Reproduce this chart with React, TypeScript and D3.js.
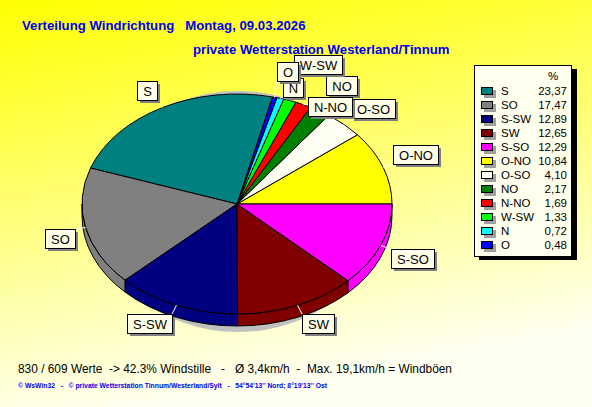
import React, { useEffect, useRef } from "react";
import * as d3 from "d3";

// legend order (descending share)
const directions = ["S", "SO", "S-SW", "SW", "S-SO", "O-NO", "O-SO", "NO", "N-NO", "W-SW", "N", "O"];
const percents = [23.37, 17.47, 12.89, 12.65, 12.29, 10.84, 4.10, 2.17, 1.69, 1.33, 0.72, 0.48];
const colors = ["#008080", "#808080", "#000080", "#800000", "#ff00ff", "#ffff00", "#fffff4", "#008000", "#ff0000", "#00ff00", "#00ffff", "#0000ff"];
const eastSlice = "O-NO"; // first slice counterclockwise from 3 o'clock

// vertical shifts of crowded labels so the boxes don't collide
const labelNudge: Record<string, number> = { "N-NO": 20, NO: -8, "W-SW": -18, N: 7, O: -8 };

const title1 = "Verteilung Windrichtung   Montag, 09.03.2026";
const title2 = "private Wetterstation Westerland/Tinnum";
const infoLine = "830 / 609 Werte  -> 42.3% Windstille   -   Ø 3,4km/h  -  Max. 19,1km/h = Windböen";
const footer = "© WsWin32   -   © private Wetterstation Tinnum/Westerland/Sylt   -   54°54'13'' Nord; 8°19'13'' Ost";

const App: React.FC = () => {
  const svgRef = useRef<SVGSVGElement>(null);
  const width = 592;
  const height = 407;
  const cx = 237, cy = 204, rx = 155, ry = 110, depth = 12;
  const font = "'Liberation Sans', Arial, sans-serif";

  useEffect(() => {
    document.body.style.margin = "0";
    const svg = d3.select(svgRef.current).attr("width", width).attr("height", height);
    svg.selectAll("*").remove();

    const defs = svg.append("defs");
    const grad = defs.append("linearGradient").attr("id", "bg")
      .attr("x1", 0).attr("y1", 0).attr("x2", 0.25).attr("y2", 1);
    grad.append("stop").attr("offset", 0).attr("stop-color", "#ffff00");
    grad.append("stop").attr("offset", 1).attr("stop-color", "#fffff2");
    svg.append("rect").attr("width", width).attr("height", height).attr("fill", "url(#bg)");

    const pt = (t: number, dy = 0): [number, number] => [cx + rx * Math.cos(t), cy - ry * Math.sin(t) + dy];
    const n = directions.length;
    const k = directions.indexOf(eastSlice);
    const idx = [...d3.range(k, n), ...d3.range(0, k)];
    const arcs = d3.pie<number>().sort(null).value((i) => percents[i])
      .startAngle(Math.PI / 2).endAngle(Math.PI / 2 - 2 * Math.PI)(idx)
      .map((a) => ({ i: a.data, t0: Math.PI / 2 - a.startAngle, t1: Math.PI / 2 - a.endAngle }));

    // shadow
    svg.append("ellipse").attr("cx", cx + 1).attr("cy", cy + 7.5).attr("rx", 142).attr("ry", 120.5)
      .attr("fill", "#c0c0c0");

    // side walls on the front half
    const sides = svg.append("g");
    arcs.forEach((a) => {
      const s0 = Math.max(a.t0, Math.PI), s1 = Math.min(a.t1, 2 * Math.PI);
      if (s1 <= s0) return;
      const p0 = pt(s0), p1 = pt(s1), q1 = pt(s1, depth), q0 = pt(s0, depth);
      const d = `M${p0}A${rx},${ry} 0 0 0 ${p1}L${q1}A${rx},${ry} 0 0 1 ${q0}Z`;
      sides.append("path").attr("d", d).attr("fill", colors[a.i]).attr("stroke", "#000").attr("stroke-width", 1);
    });

    // top faces
    const tops = svg.append("g");
    arcs.forEach((a) => {
      const p0 = pt(a.t0), p1 = pt(a.t1);
      const large = a.t1 - a.t0 > Math.PI ? 1 : 0;
      tops.append("path").attr("d", `M${cx},${cy}L${p0}A${rx},${ry} 0 ${large} 0 ${p1}Z`)
        .attr("fill", colors[a.i]).attr("stroke", "#000").attr("stroke-width", 1).attr("stroke-linejoin", "round");
    });

    // labels
    const leaders = svg.append("g");
    const boxes = svg.append("g");
    arcs.forEach((a) => {
      const name = directions[a.i];
      const tm = (a.t0 + a.t1) / 2;
      const c = Math.cos(tm), s = Math.sin(tm);
      const e = pt(tm);
      const nudge = labelNudge[name] ?? 0;
      const corner = [e[0] + 11 * c, e[1] - 9 * s];
      const g = boxes.append("g");
      const shadow = g.append("rect").attr("fill", "#808080");
      const box = g.append("rect").attr("fill", "#ffffe8").attr("stroke", "#000").attr("stroke-width", 1);
      const txt = g.append("text").text(name).attr("font-family", font).attr("font-size", 13)
        .attr("text-anchor", "middle").attr("fill", "#000");
      const tw = (txt.node() as SVGTextElement).getComputedTextLength();
      const w = Math.round(tw + 11), h = 19;
      const x0 = Math.round(c >= 0 ? corner[0] : corner[0] - w);
      const y0 = Math.round((s >= 0 ? corner[1] - h : corner[1]) + nudge);
      shadow.attr("x", x0 + 3).attr("y", y0 + 3).attr("width", w).attr("height", h);
      box.attr("x", x0 + 0.5).attr("y", y0 + 0.5).attr("width", w).attr("height", h);
      txt.attr("x", x0 + w / 2 + 0.5).attr("y", y0 + 14.5);
      const lx = Math.max(x0, Math.min(x0 + w, e[0]));
      const ly = Math.max(y0, Math.min(y0 + h, e[1]));
      leaders.append("line").attr("x1", e[0]).attr("y1", e[1]).attr("x2", lx).attr("y2", ly)
        .attr("stroke", "#fff").attr("stroke-width", 1);
    });

    // legend
    const lg = svg.append("g");
    lg.append("rect").attr("x", 479).attr("y", 69).attr("width", 98).attr("height", 191).attr("fill", "#000");
    lg.append("rect").attr("x", 474.5).attr("y", 65.5).attr("width", 97).attr("height", 191)
      .attr("fill", "#ffffee").attr("stroke", "#000");
    lg.append("text").text("%").attr("x", 553).attr("y", 80).attr("text-anchor", "middle")
      .attr("font-family", font).attr("font-size", 11.5).attr("fill", "#000");
    const fmt = d3.format(".2f");
    directions.forEach((dname, i) => {
      const y = 91 + 14 * i;
      lg.append("rect").attr("x", 484).attr("y", y - 1).attr("width", 12).attr("height", 8).attr("fill", "#a0a0a0");
      lg.append("rect").attr("x", 481.5).attr("y", y - 3.5).attr("width", 11).attr("height", 7)
        .attr("fill", colors[i]).attr("stroke", "#000");
      lg.append("text").text(dname).attr("x", 501).attr("y", y + 4).attr("font-family", font)
        .attr("font-size", 11.5).attr("fill", "#000");
      lg.append("text").text(fmt(percents[i]).replace(".", ",")).attr("x", 567).attr("y", y + 4)
        .attr("text-anchor", "end").attr("font-family", font).attr("font-size", 11.5).attr("fill", "#000");
    });

    // titles and info text
    svg.append("text").text(title1).attr("x", 22).attr("y", 30).attr("font-family", font)
      .attr("font-size", 13.2).attr("font-weight", "bold").attr("fill", "#0000f0").style("white-space", "pre");
    svg.append("text").text(title2).attr("x", 193).attr("y", 54).attr("font-family", font)
      .attr("font-size", 13.2).attr("font-weight", "bold").attr("fill", "#0000f0").style("white-space", "pre");
    svg.append("text").text(infoLine).attr("x", 18).attr("y", 373).attr("font-family", font)
      .attr("font-size", 11.9).attr("fill", "#000").style("white-space", "pre");
    svg.append("text").text(footer).attr("x", 18).attr("y", 388).attr("font-family", font)
      .attr("font-size", 7.5).attr("font-weight", "bold").attr("fill", "#0000f0").style("white-space", "pre")
      .attr("textLength", 309).attr("lengthAdjust", "spacingAndGlyphs");
  }, []);

  return <svg ref={svgRef} width={width} height={height} style={{ display: "block" }}></svg>;
};

export default App;
